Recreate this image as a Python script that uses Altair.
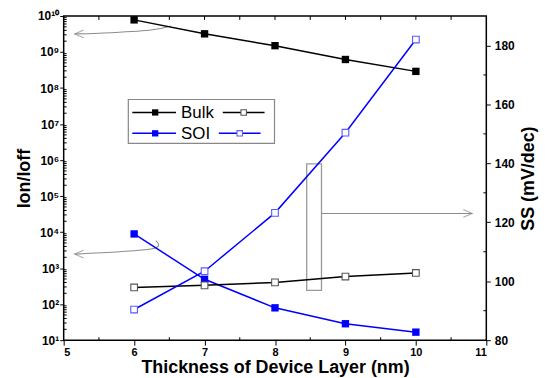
import altair as alt
import pandas as pd

# ---------------- data ----------------
thickness = [6, 7, 8, 9, 10]
bulk_ion_ioff = [7.8e9, 3.2e9, 1.5e9, 6.2e8, 2.9e8]
soi_ion_ioff = [8.9e3, 4.9e2, 79, 28.6, 16.7]
bulk_ss = [97.9, 98.6, 99.6, 101.6, 102.8]
soi_ss = [90.4, 103.4, 123.2, 150.4, 182.0]

x_major = [5, 6, 7, 8, 9, 10, 11]
x_half = [5.5, 6.5, 7.5, 8.5, 9.5, 10.5]
y_left_major = [1e1, 1e2, 1e3, 1e4, 1e5, 1e6, 1e7, 1e8, 1e9, 1e10]
y_left_minor = [m * 10 ** k for k in range(1, 10) for m in range(2, 10)]
y_right_major = [80, 100, 120, 140, 160, 180]
y_right_minor = [90, 110, 130, 150, 170]

# annotation shapes in data units
arrow1_x = [6.52, 6.21, 5.51, 5.155]
arrow1_y = [10 ** 9.724, 10 ** 9.605, 10 ** 9.522, 10 ** 9.503]
arrow2_x = [6.309, 6.345, 6.214, 5.791, 5.155]
arrow2_y = [10 ** 3.765, 10 ** 3.619, 10 ** 3.522, 10 ** 3.453, 10 ** 3.390]
box_x = [8.45, 8.66]
box_ss = [96.9, 139.8]
arrow3_x = [8.66, 10.80]
arrow3_ss = [123.0, 123.0]

W, H = 425, 326
FONT = "Liberation Sans"
BLUE = "#0000ff"
GRAY = "#8c8c8c"

LEFT_HEAD = "M3,-1.3L0,0L3,1.3"
RIGHT_HEAD = "M-3,-1.3L0,0L-3,1.3"

xscale = alt.Scale(domain=[5, 11], nice=False, zero=False)
x_axis = alt.Axis(values=x_major, format="d", title="Thickness of Device Layer (nm)",
                  titleFontSize=18, titleFontWeight="bold", labelFontSize=11,
                  labelFontWeight="bold", tickSize=5, labelPadding=1, titlePadding=2,
                  grid=False, domain=False, tickColor="#000", labelColor="#000",
                  titleColor="#000")


def X(f="x"):
    return alt.X(f"{f}:Q", scale=xscale, axis=x_axis)


yl_scale = alt.Scale(type="log", domain=[10, 1e10], nice=False)
sup = "['⁰','¹','²','³','⁴','⁵','⁶','⁷','⁸','⁹','¹⁰']"
yl_axis = alt.Axis(values=y_left_major,
                   labelExpr=f"'10' + {sup}[round(log(datum.value)/LN10)]",
                   title="Ion/Ioff", titleFontSize=18, titleFontWeight="bold",
                   labelFontSize=12, labelFontWeight="bold", tickSize=4,
                   labelPadding=1, titlePadding=4, grid=False, domain=False,
                   tickColor="#000", labelColor="#000", titleColor="#000")


def YL(f="ion"):
    return alt.Y(f"{f}:Q", scale=yl_scale, axis=yl_axis)


yr_scale = alt.Scale(domain=[80, 190], nice=False, zero=False)
yr_axis = alt.Axis(orient="right", values=y_right_major, title="SS (mV/dec)",
                   titleAngle=270, titleBaseline="top", titleFontSize=18,
                   titleFontWeight="bold", labelFontSize=12, labelFontWeight="bold",
                   tickSize=4, labelPadding=4, titlePadding=5, grid=False, domain=False,
                   tickColor="#000", labelColor="#000", titleColor="#000")


def YR(f="ss"):
    return alt.Y(f"{f}:Q", scale=yr_scale, axis=yr_axis)


one = pd.DataFrame({"k": [0]})

# ---------------- left (Ion/Ioff) group ----------------
bulk_ion_df = pd.DataFrame({"x": thickness, "ion": bulk_ion_ioff})
soi_ion_df = pd.DataFrame({"x": thickness, "ion": soi_ion_ioff})
arr_df = pd.DataFrame({
    "x": arrow1_x + arrow2_x,
    "ion": arrow1_y + arrow2_y,
    "id": ["a"] * len(arrow1_x) + ["b"] * len(arrow2_x),
    "o": list(range(len(arrow1_x))) + list(range(len(arrow2_x))),
})
head_l_df = pd.DataFrame({"x": [arrow1_x[-1], arrow2_x[-1]],
                          "ion": [arrow1_y[-1], arrow2_y[-1]]})

left_layers = [
    alt.Chart(pd.DataFrame({"ion": y_left_minor})).mark_rule(color="#000", strokeWidth=1)
    .encode(y=YL(), x=alt.value(0), x2=alt.value(3)),
    alt.Chart(pd.DataFrame({"x": x_half})).mark_rule(color="#000", strokeWidth=1)
    .encode(x=X(), y=alt.value(H), y2=alt.value(H - 3)),
    alt.Chart(pd.DataFrame({"x": x_half + x_major[1:-1]})).mark_rule(color="#000", strokeWidth=1)
    .encode(x=X(), y=alt.value(0), y2=alt.value(4)),
    alt.Chart(arr_df).mark_line(color=GRAY, strokeWidth=1.1, interpolate="cardinal")
    .encode(x=X(), y=YL(), detail="id:N", order="o:Q"),
    alt.Chart(head_l_df).mark_point(shape=LEFT_HEAD, size=36, color=GRAY, strokeWidth=1.1)
    .encode(x=X(), y=YL()),
    alt.Chart(bulk_ion_df).mark_line(color="#000", strokeWidth=1.5).encode(x=X(), y=YL()),
    alt.Chart(bulk_ion_df).mark_point(shape="square", filled=True, color="#000", size=55, opacity=1)
    .encode(x=X(), y=YL()),
    alt.Chart(soi_ion_df).mark_line(color=BLUE, strokeWidth=1.5).encode(x=X(), y=YL()),
    alt.Chart(soi_ion_df).mark_point(shape="square", filled=True, color=BLUE, size=55, opacity=1)
    .encode(x=X(), y=YL()),
]

# ---------------- right (SS) group ----------------
bulk_ss_df = pd.DataFrame({"x": thickness, "ss": bulk_ss})
soi_ss_df = pd.DataFrame({"x": thickness, "ss": soi_ss})
box_df = pd.DataFrame({"x": [box_x[0]], "x2": [box_x[1]], "ss": [box_ss[0]], "ss2": [box_ss[1]]})
arrow3_df = pd.DataFrame({"x": arrow3_x, "ss": arrow3_ss})
head_r_df = pd.DataFrame({"x": [arrow3_x[-1]], "ss": [arrow3_ss[-1]]})

right_layers = [
    alt.Chart(pd.DataFrame({"ss": y_right_minor})).mark_rule(color="#000", strokeWidth=1)
    .encode(y=YR(), x=alt.value(W), x2=alt.value(W - 3)),
    alt.Chart(box_df).mark_rect(fillOpacity=0, stroke="#999999", strokeWidth=1.3)
    .encode(x=X(), x2="x2:Q", y=YR(), y2="ss2:Q"),
    alt.Chart(arrow3_df).mark_line(color=GRAY, strokeWidth=1.1).encode(x=X(), y=YR()),
    alt.Chart(head_r_df).mark_point(shape=RIGHT_HEAD, size=36, color=GRAY, strokeWidth=1.1)
    .encode(x=X(), y=YR()),
    alt.Chart(bulk_ss_df).mark_line(color="#000", strokeWidth=1.5).encode(x=X(), y=YR()),
    alt.Chart(bulk_ss_df).mark_point(shape="square", filled=True, fill="#ffffff", stroke="#555555",
                                     strokeWidth=1.1, size=45, opacity=1)
    .encode(x=X(), y=YR()),
    alt.Chart(soi_ss_df).mark_line(color=BLUE, strokeWidth=1.5).encode(x=X(), y=YR()),
    alt.Chart(soi_ss_df).mark_point(shape="square", filled=True, fill="#ffffff", stroke="#5a5aff",
                                    strokeWidth=1.1, size=45, opacity=1)
    .encode(x=X(), y=YR()),
]

# ---------------- legend (drawn on top) ----------------
def leg_row(y, color, label, open_stroke, x_open):
    return [
        alt.Chart(one).mark_rule(color=color, strokeWidth=1.5)
        .encode(x=alt.value(69), x2=alt.value(113), y=alt.value(y)),
        alt.Chart(one).mark_point(shape="square", filled=True, color=color, size=40, opacity=1)
        .encode(x=alt.value(92), y=alt.value(y)),
        alt.Chart(one).mark_text(align="left", baseline="middle", fontSize=17, font=FONT, color="#000")
        .encode(x=alt.value(118), y=alt.value(y + 1), text=alt.value(label)),
        alt.Chart(one).mark_rule(color=color, strokeWidth=1.5)
        .encode(x=alt.value(x_open), x2=alt.value(x_open + 42), y=alt.value(y)),
        alt.Chart(one).mark_point(shape="square", filled=True, fill="#ffffff", stroke=open_stroke,
                                  strokeWidth=1.1, size=30, opacity=1)
        .encode(x=alt.value(x_open + 21), y=alt.value(y)),
    ]

legend_layers = [
    alt.Chart(one).mark_rect(fill="#ffffff", stroke="#888888", strokeWidth=1.2)
    .encode(x=alt.value(65), x2=alt.value(212), y=alt.value(84), y2=alt.value(128)),
]
legend_layers += leg_row(97, "#000", "Bulk", "#555555", 160)
legend_layers += leg_row(118, BLUE, "SOI", "#5a5aff", 156)

left = alt.layer(*left_layers)
right = alt.layer(*(right_layers + legend_layers))

chart = (
    alt.layer(left, right)
    .resolve_scale(y="independent")
    .properties(width=W, height=H,
                autosize=alt.AutoSizeParams(type="none"),
                padding={"left": 56, "top": 7, "right": 56, "bottom": 37})
    .configure_view(stroke="#000", strokeWidth=1.5)
    .configure_axis(labelFont=FONT, titleFont=FONT)
)

chart.save("out.html", embed_options={"renderer": "svg", "actions": False})
